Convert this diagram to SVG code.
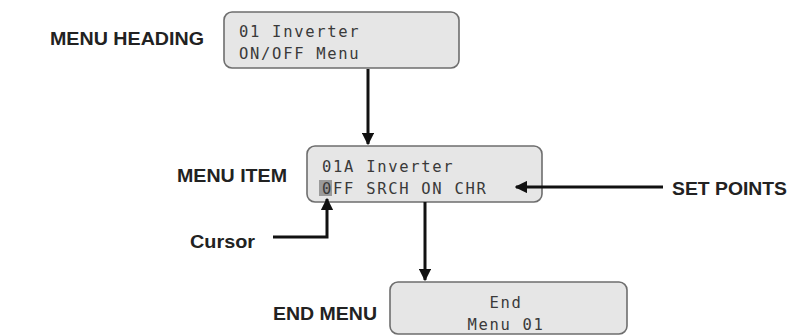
<svg xmlns="http://www.w3.org/2000/svg" width="793" height="336" viewBox="0 0 793 336">
<style>
.lbl{font-family:"Liberation Sans",Arial,sans-serif;font-weight:bold;font-size:18px;fill:#222}
.lcd{font-family:"DejaVu Sans Mono","Liberation Mono",monospace;font-size:15.5px;fill:#3a3a3a;letter-spacing:1.7px}
.box{fill:#e6e6e6;stroke:#6e6e6e;stroke-width:1.6}
.con{fill:none;stroke:#111;stroke-width:3}
</style>
<defs>
<marker id="ah" viewBox="0 0 10 10" refX="9" refY="5" markerWidth="4.2" markerHeight="4.2" orient="auto" markerUnits="strokeWidth">
<path d="M0,0 L10,5 L0,10 z" fill="#111"/>
</marker>
</defs>
<rect width="793" height="336" fill="#fff"/>
<g id="heading">
<text class="lbl" x="50" y="45" textLength="154" lengthAdjust="spacingAndGlyphs">MENU HEADING</text>
<rect class="box" x="224" y="12" width="235" height="56" rx="8"/>
<text class="lcd" x="239" y="37">01 Inverter</text>
<text class="lcd" x="239" y="59">ON/OFF Menu</text>
</g>
<g id="item">
<text class="lbl" x="177" y="182" textLength="110" lengthAdjust="spacingAndGlyphs">MENU ITEM</text>
<rect class="box" x="307" y="146" width="235" height="56" rx="8"/>
<rect x="319" y="180" width="13" height="16" fill="#9a9a9a"/>
<text class="lcd" x="322" y="172">01A Inverter</text>
<text class="lcd" x="322" y="194">0FF SRCH ON CHR</text>
</g>
<g id="setpoints">
<text class="lbl" x="672" y="195" textLength="115" lengthAdjust="spacingAndGlyphs">SET POINTS</text>
</g>
<g id="cursor">
<text class="lbl" x="190" y="248" textLength="65" lengthAdjust="spacingAndGlyphs">Cursor</text>
</g>
<g id="end">
<text class="lbl" x="273" y="320" textLength="104" lengthAdjust="spacingAndGlyphs">END MENU</text>
<rect class="box" x="390" y="282" width="237" height="52" rx="8"/>
<text class="lcd" x="506" y="308" text-anchor="middle">End</text>
<text class="lcd" x="506" y="330" text-anchor="middle">Menu 01</text>
</g>
<g id="connectors">
<path class="con" d="M368,69 V144" marker-end="url(#ah)"/>
<path class="con" d="M663,187 H516" marker-end="url(#ah)"/>
<path class="con" d="M273,237 H327 V199" marker-end="url(#ah)"/>
<path class="con" d="M425,202 V280" marker-end="url(#ah)"/>
</g>
</svg>
